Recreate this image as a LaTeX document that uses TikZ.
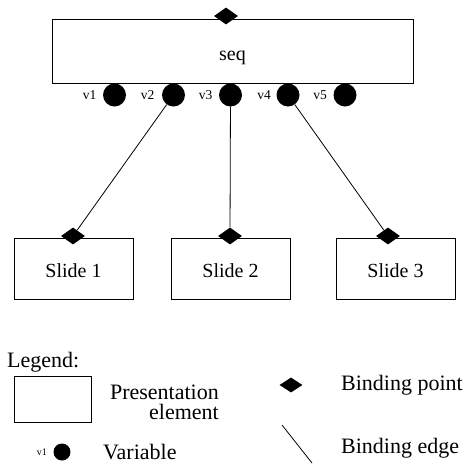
\documentclass[tikz,border=0pt]{standalone}
\usepackage{fontspec}
\setmainfont{Liberation Serif}
\usetikzlibrary{shapes.geometric}

\tikzset{
    elem/.style={draw, line width=0.8pt, inner sep=0pt, font=\fontsize{20}{24}\selectfont},
    bindpt/.style={diamond, fill=black, inner sep=0pt, minimum width=24pt, minimum height=17pt},
    var/.style={circle, fill=black, inner sep=0pt, minimum size=23pt},
    varlabel/.style={font=\fontsize{13.5}{16}\selectfont},
    legtext/.style={font=\fontsize{22}{20}\selectfont, inner sep=0pt}
}

\begin{document}
\begin{tikzpicture}[x=1pt, y=-1pt]
                \useasboundingbox (0,0) rectangle (469,464);
                \node[elem, minimum width=361pt, minimum height=64pt] at (232.5,51) (seq) {\raisebox{-9pt}[0pt][0pt]{seq}};
                \node[bindpt] at (226,16) (bseq) {};
                \foreach \x/\i/\d in {114.5/1/3, 173.5/2/4, 230.5/3/3, 288/4/2, 345/5/3} {
                    \node[var, label={[varlabel, label distance=\d pt]left:v\i}] at (\x,95) (v\i) {};
                }
                \node[elem, minimum width=119pt, minimum height=61pt] at (73.5,268.5) (slide1) {\raisebox{-8.5pt}[0pt][0pt]{Slide 1}};
                \node[elem, minimum width=119pt, minimum height=61pt] at (230.5,268.5) (slide2) {\raisebox{-8.5pt}[0pt][0pt]{Slide 2}};
                \node[elem, minimum width=119pt, minimum height=61pt] at (395.5,268.5) (slide3) {\raisebox{-8.5pt}[0pt][0pt]{Slide 3}};
                \node[bindpt] at (73,236) (b1) {};
                \node[bindpt] at (230,236) (b2) {};
                \node[bindpt] at (388,236) (b3) {};
                \draw[line width=0.8pt] (v2) -- (b1);
                \draw[line width=0.8pt] (v3) -- (b2);
                \draw[line width=0.8pt] (v4) -- (b3);
                % legend
                \node[legtext, anchor=west] at (7,362) (legend) {Legend:};
                \node[draw, line width=0.8pt, minimum width=77pt, minimum height=46pt] at (52.5,399) (lrect) {};
                \node[legtext, anchor=east, align=right] at (219,402) (lrecttext) {Presentation\\element\hspace{5pt}};
                \node[var, minimum size=17pt, label={[font=\fontsize{10}{12}\selectfont, label distance=3pt]left:v1}] at (62,452) (lvar) {};
                \node[legtext, anchor=west] at (103,452) (lvartext) {Variable};
                \node[bindpt, minimum width=23pt, minimum height=15pt] at (291,385) (lbind) {};
                \node[legtext, anchor=west] at (341,385) (lbindtext) {Binding point};
                \coordinate (ledgea) at (282,425);
                \coordinate (ledgeb) at (312,463);
                \draw[line width=0.8pt] (ledgea) -- (ledgeb);
                \node[legtext, anchor=west] at (341,448) (ledgetext) {Binding edge};
            \end{tikzpicture}
\end{document}
